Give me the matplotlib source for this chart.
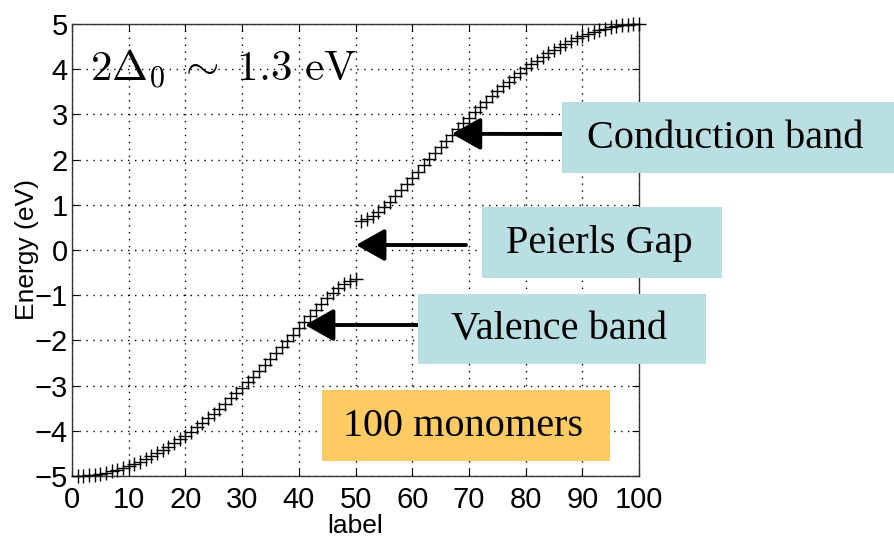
import matplotlib.pyplot as plt
import numpy as np
from matplotlib.patches import Rectangle

# eigen-energies of the dimerised chain, one per level label
labels = np.arange(1, 101)
valence = [-5.00, -4.99, -4.98, -4.97, -4.95, -4.93, -4.90, -4.86, -4.83, -4.78,
           -4.73, -4.68, -4.63, -4.56, -4.50, -4.43, -4.35, -4.28, -4.19, -4.11,
           -4.02, -3.92, -3.83, -3.72, -3.62, -3.51, -3.40, -3.28, -3.17, -3.05,
           -2.92, -2.80, -2.67, -2.54, -2.41, -2.28, -2.14, -2.01, -1.87, -1.73,
           -1.60, -1.46, -1.33, -1.20, -1.07, -0.95, -0.85, -0.76, -0.69, -0.65]
conduction = [0.65, 0.69, 0.76, 0.85, 0.95, 1.07, 1.20, 1.33, 1.46, 1.60,
              1.73, 1.87, 2.01, 2.14, 2.28, 2.41, 2.54, 2.67, 2.80, 2.92,
              3.05, 3.17, 3.28, 3.40, 3.51, 3.62, 3.72, 3.83, 3.92, 4.02,
              4.11, 4.19, 4.28, 4.35, 4.43, 4.50, 4.56, 4.63, 4.68, 4.73,
              4.78, 4.83, 4.86, 4.90, 4.93, 4.95, 4.97, 4.98, 4.99, 5.00]
energy = np.array(valence + conduction)

xticks = np.arange(0, 101, 10)
yticks = np.arange(-5, 6, 1)

# annotation boxes: text, colour, box (x0, y0, x1, y1) in pixels from top-left
boxes = [
    ("Conduction band", "#badfe2", (562, 102, 894, 173)),
    ("Peierls Gap", "#badfe2", (482, 207, 722, 278)),
    ("Valence band", "#badfe2", (418, 294, 706, 364)),
    ("100 monomers", "#fecb63", (322, 390, 610, 461)),
]
# arrows: tail pixel (top-left origin) -> tip in data coords
arrows = [((562, 134), (67.0, 2.57)),
          ((466, 245), (50.1, 0.11)),
          ((418, 325), (41.1, -1.66))]

W, H = 894, 541
plt.rcParams['font.family'] = ['Liberation Sans', 'DejaVu Sans']
plt.rcParams['mathtext.fontset'] = 'cm'

fig = plt.figure(figsize=(W / 100, H / 100), dpi=100)
ax = fig.add_axes([72 / W, 1 - 476 / H, (639 - 72) / W, (476 - 24) / H])

ax.plot(labels, energy, '+', color='black', ms=10, mew=1.0, clip_on=False, zorder=3)

ax.set_xlim(0, 100)
ax.set_ylim(-5, 5)
ax.set_xticks(xticks)
ax.set_yticks(yticks)
ax.tick_params(direction='in', length=5, width=0.8, top=True, right=True,
               labelsize=21, pad=3)
ax.tick_params(axis='x', pad=7)
ax.grid(True, linestyle=(0, (1, 4)), color='black', linewidth=1.0)
for s in ax.spines.values():
    s.set_linewidth(1.0)
    s.set_color('#333333')

ax.set_xlabel('label', fontsize=19, labelpad=0)
ax.set_ylabel('Energy (eV)', fontsize=19)
ax.yaxis.set_label_coords(-0.058, 0.5)

ax.text(3.2, 4.0, r'$2\Delta_0 \;\sim\; 1.3\ \mathrm{eV}$', fontsize=31,
        va='center', ha='left')


def fig_xy(px, py):
    return px / W, 1 - py / H


for text, colour, (x0, y0, x1, y1) in boxes:
    fx0, fy1 = fig_xy(x0, y1)
    fig.add_artist(Rectangle((fx0, fy1), (x1 - x0) / W, (y1 - y0) / H,
                             transform=fig.transFigure, facecolor=colour,
                             edgecolor='none', zorder=4))
    cx, cy = fig_xy((x0 + x1) / 2 - 3, (y0 + y1) / 2 + 1)
    fig.text(cx, cy, text, ha='center', va='center', fontsize=29,
             family='Liberation Serif', zorder=5)

for (tx, ty), tip in arrows:
    ax.annotate('', xy=tip, xycoords='data', xytext=fig_xy(tx, ty),
                textcoords='figure fraction',
                arrowprops=dict(arrowstyle='-|>,head_length=0.8,head_width=0.45',
                                lw=2.8, color='black', mutation_scale=22,
                                shrinkA=0, shrinkB=0),
                annotation_clip=False, zorder=6)

fig.savefig('out.png', dpi=100)
